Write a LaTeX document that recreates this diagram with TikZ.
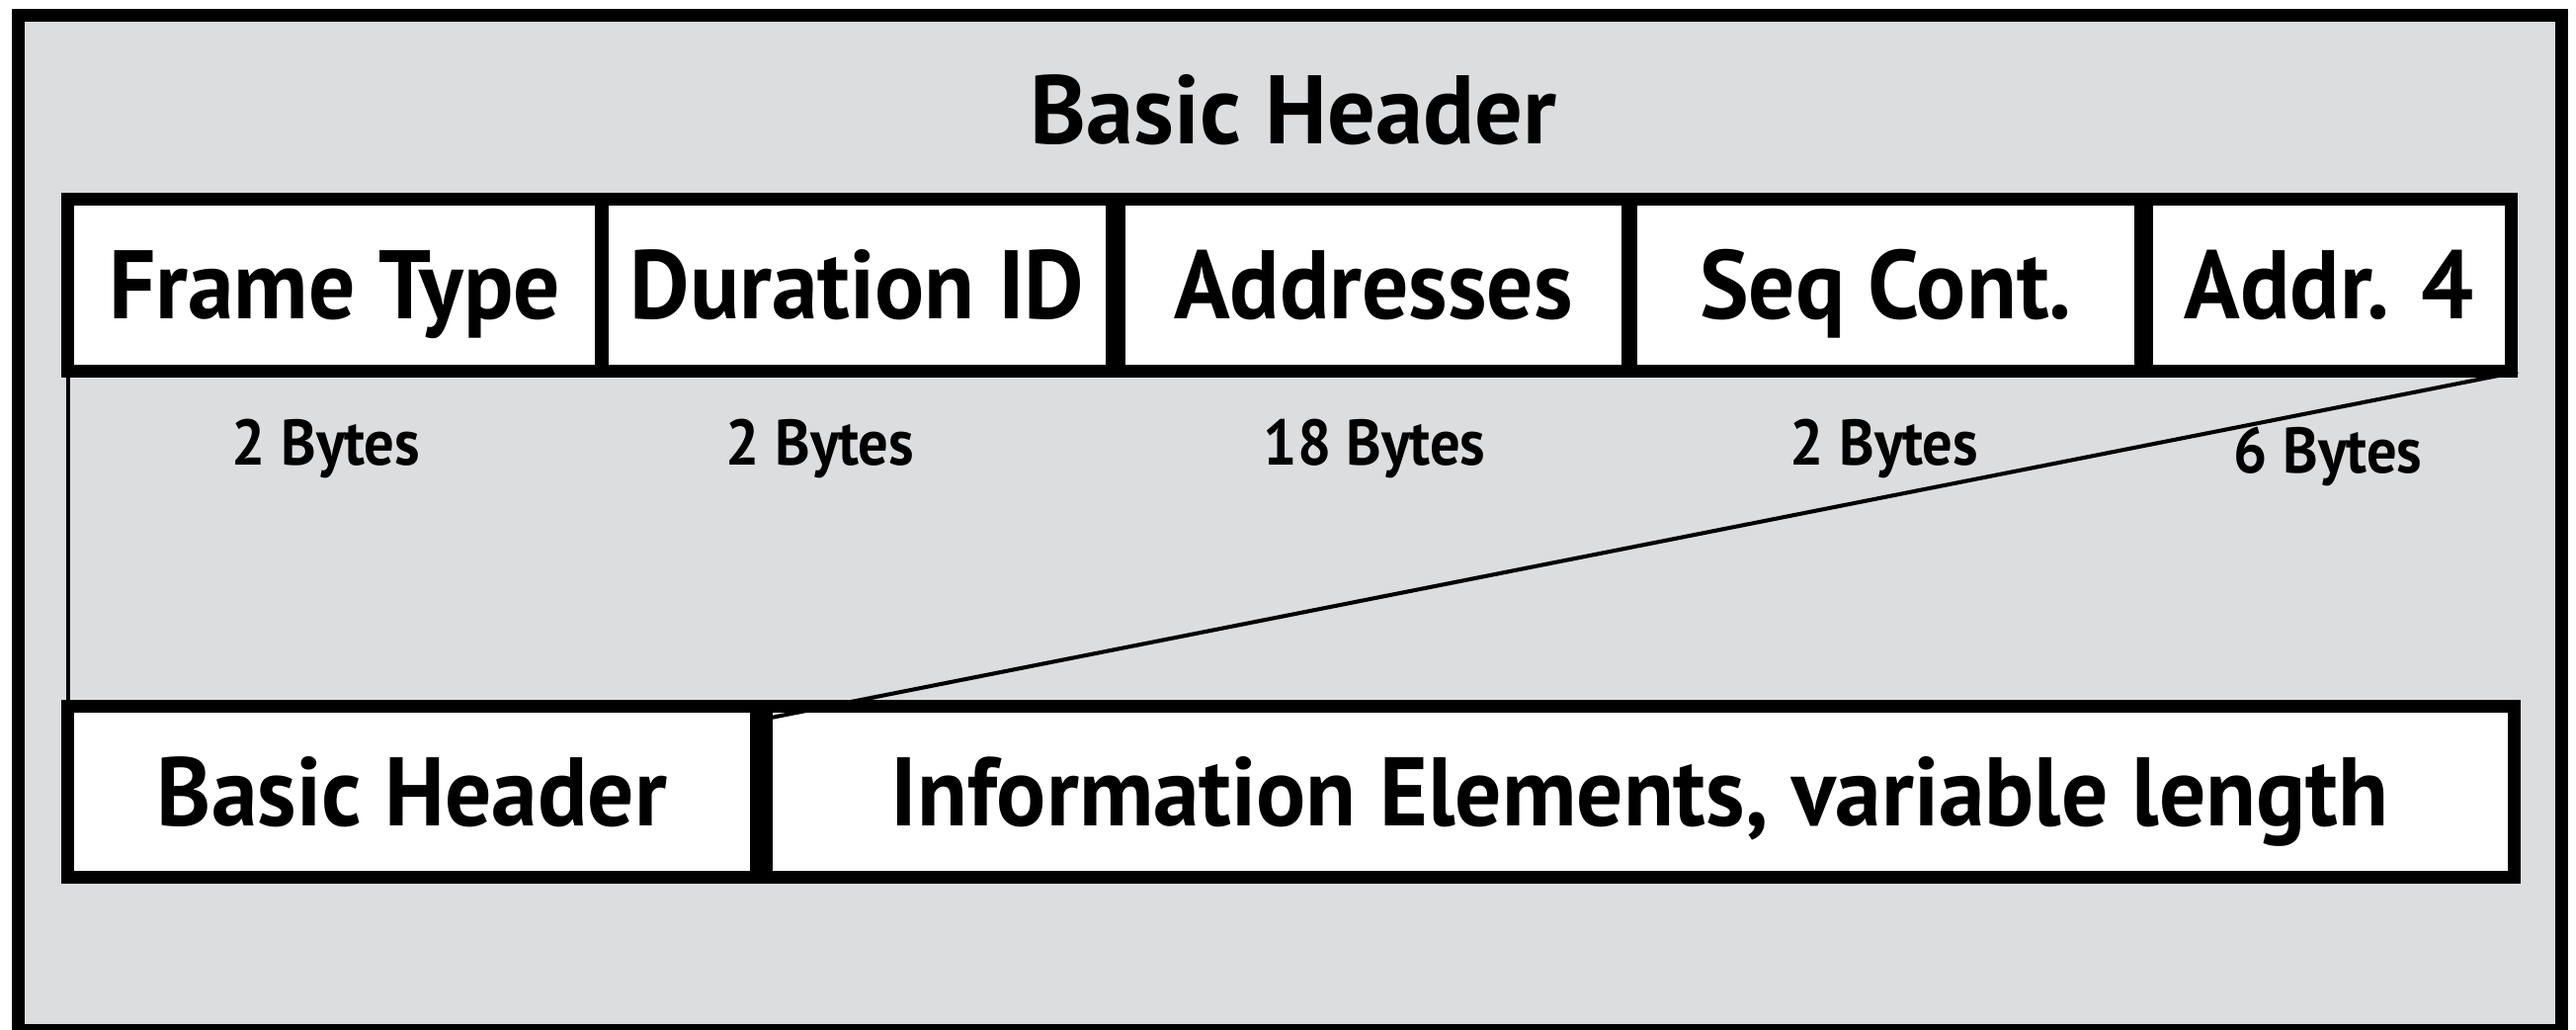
\documentclass[tikz,border=0pt]{standalone}
\usepackage{fontspec}
\setmainfont{PT Sans}[FakeStretch=0.95]
\newfontfamily\titlefont{PT Sans}[FakeStretch=0.98]
\newfontfamily\sizefont{PT Sans}[FakeStretch=0.93]
\usetikzlibrary{calc}
\definecolor{panelgray}{RGB}{220,221,223}
\begin{document}
\begin{tikzpicture}[x=0.01cm,y=-0.01cm,
  frameline/.style={draw=black,line width=3.7pt},
  field/.style={draw=black,fill=white,line width=3.7pt,inner sep=0pt,outer sep=0pt,
    text height=0.69cm,text depth=0pt,minimum height=1.735cm,
    font=\bfseries\fontsize{28}{30}\selectfont},
  title/.style={anchor=base,inner sep=0pt,font=\titlefont\bfseries\fontsize{28}{30}\selectfont},
  size/.style={anchor=base,inner sep=0pt,font=\sizefont\bfseries\fontsize{18.5}{20}\selectfont},
  link/.style={draw=black,line width=1.15pt}]
  \useasboundingbox (0,0) rectangle (2607,1041);
  \clip (0,0) rectangle (2607,1041);
  % grey panel with its heavy frame
  \path[frameline,fill=panelgray] (18.5,15.5) rectangle (2592.5,1042);
  \node[title] (ttl) at (1309,145) {Basic Header};
  % header fields
  \node[field,minimum width=5.395cm] (ft)   at (338.75,288.25) {Frame Type};
  \node[field,minimum width=5.16cm]  (dur)  at (867.5,288.25)  {Duration ID};
  \node[field,minimum width=5.15cm]  (addr) at (1390,288.25)   {Addresses};
  \node[field,minimum width=5.16cm]  (seq)  at (1908.5,288.25) {Seq Cont.};
  \node[field,minimum width=3.69cm]  (a4)   at (2357,288.25)   {Addr. 4};
  % frame layout
  \node[field,minimum width=6.97cm,minimum height=1.73cm]  (bh) at (417,801)    {Basic Header};
  \node[field,minimum width=17.68cm,minimum height=1.73cm] (ie) at (1659.5,801) {Information Elements, variable length};
  % field sizes
  \node[size] (s1) at (330,470.5)  {2 Bytes};
  \node[size] (s2) at (830,470.5)  {2 Bytes};
  \node[size] (s3) at (1391,470.5) {18 Bytes};
  \node[size] (s4) at (1907,470.5) {2 Bytes};
  \node[size] (s5) at (2356,478)   {6 Bytes};
  % expansion lines
  \coordinate (iecorner) at ($(ie.north west)+(0.5,12.5)$);
  \draw[link] (ft.south west) -- (ft.south west |- bh.north);
  \draw[link] ($(a4.south east)+(6.5,1)$) -- (iecorner);
\end{tikzpicture}
\end{document}
